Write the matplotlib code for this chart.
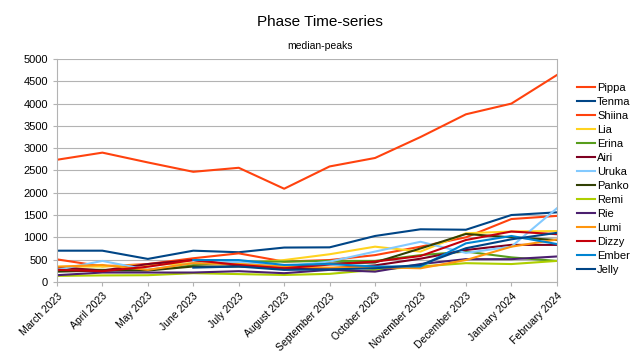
import numpy as np
import matplotlib
matplotlib.use("Agg")
import matplotlib.pyplot as plt

plt.rcParams['font.family'] = ['Liberation Sans', 'DejaVu Sans']

months = ["March 2023", "April 2023", "May 2023", "June 2023", "July 2023",
          "August 2023", "September 2023", "October 2023", "November 2023",
          "December 2023", "January 2024", "February 2024"]

nan = np.nan
pippa = [2740, 2900, 2680, 2470, 2560, 2090, 2590, 2780, 3250, 3760, 4000, 4640]
tenma = [700, 700, 515, 700, 665, 770, 775, 1030, 1180, 1170, 1500, 1560]
shiina = [505, 350, 400, 530, 640, 455, 490, 600, 790, 1000, 1410, 1480]
lia = [340, 345, 380, 420, 410, 490, 620, 790, 680, 1090, 1130, 1140]
erina = [285, 270, 270, 380, 455, 455, 470, 470, 600, 680, 550, 470]
airi = [330, 255, 400, 490, 365, 285, 305, 370, 520, 715, 830, 830]
uruka = [270, 470, 270, 420, 450, 345, 455, 680, 900, 650, 790, 1650]
panko = [230, 255, 255, 345, 345, 320, 410, 435, 750, 1075, 1000, 940]
remi = [135, 145, 150, 195, 175, 155, 180, 270, 345, 420, 400, 470]
rie = [150, 210, 210, 210, 240, 195, 270, 230, 400, 510, 510, 570]
lumi = [340, 380, 270, 420, 400, 345, 320, 330, 305, 490, 790, 950]
dizzy = [270, 240, 340, 490, 380, 305, 390, 455, 580, 940, 1130, 1070]
ember = [nan, nan, nan, 490, 490, 380, 400, 345, 345, 865, 1030, 850]
jelly = [nan, nan, nan, 320, 345, 270, 280, 305, 380, 755, 955, 1100]

names = ["Pippa", "Tenma", "Shiina", "Lia", "Erina", "Airi", "Uruka", "Panko",
         "Remi", "Rie", "Lumi", "Dizzy", "Ember", "Jelly"]
series = [pippa, tenma, shiina, lia, erina, airi, uruka, panko,
          remi, rie, lumi, dizzy, ember, jelly]
colors = ["#ff420e", "#004586", "#ff420e", "#ffd320", "#579d1c", "#7e0021",
          "#83caff", "#314004", "#aecf00", "#4b1f6f", "#ff950e", "#c5000b",
          "#0084d1", "#004586"]

fig = plt.figure(figsize=(6.4, 3.6), dpi=100)
ax = fig.add_axes([0.089, 0.217, 0.781, 0.619])

x = np.arange(len(months))
for name, vals, c in zip(names, series, colors):
    ax.plot(x, vals, color=c, linewidth=1.5, label=name)

ax.set_xlim(0, len(months) - 1)
ax.set_ylim(0, 5000)
ax.set_yticks(range(0, 5001, 500))
ax.set_xticks(x)
ax.set_xticklabels(months, rotation=45, ha='right', rotation_mode='anchor', fontsize=7.5)
ax.tick_params(axis='y', labelsize=8, length=3, color='#b3b3b3')
ax.tick_params(axis='x', length=3, color='#b3b3b3')
ax.yaxis.grid(True, color='#b3b3b3', linewidth=0.8)
ax.set_axisbelow(True)
for s in ax.spines.values():
    s.set_color('#b3b3b3')
ax.spines['top'].set_visible(False)

fig.text(0.5, 0.94, "Phase Time-series", ha='center', va='center', fontsize=11)
fig.text(0.5, 0.872, "median-peaks", ha='center', va='center', fontsize=7.5)

fig.legend(loc='center left', bbox_to_anchor=(0.895, 0.503), frameon=False,
           fontsize=8, handlelength=1.6, handletextpad=0.2, labelspacing=0.36,
           borderaxespad=0)

fig.savefig("out.png", dpi=100)
